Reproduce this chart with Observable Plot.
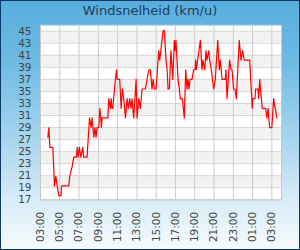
<!DOCTYPE html>
<html>
<head>
<meta charset="utf-8">
<script src="https://cdn.jsdelivr.net/npm/d3@7"></script>
<script src="https://cdn.jsdelivr.net/npm/@observablehq/plot@0.6"></script>
<style>
  html, body { margin: 0; padding: 0; }
  #wrap {
    position: relative; width: 300px; height: 250px; overflow: hidden;
    background: linear-gradient(to bottom, #56aedd 0%, #6fbbe4 25%, #a6d4ee 55%, #d8ecf7 80%, #f7fbfd 100%);
    box-shadow: inset 0 0 0 1px #0e3a66;
    font-family: "DejaVu Sans", sans-serif;
  }
  #title {
    position: absolute; left: 0; top: 3px; width: 300px; text-align: center;
    font-size: 13px; color: #1b3d5e; line-height: 16px;
  }
  #chart { position: absolute; left: 0; top: 22px; }
</style>
</head>
<body>
<div id="wrap">
  <div id="title">Windsnelheid (km/u)</div>
  <div id="chart"></div>
</div>
<script>
const times = ["03:46","03:52","03:58","04:17","04:27","04:35","04:44","04:54","05:08","05:11",
  "05:56","06:02","06:17","06:27","06:44","06:48","06:54","07:02","07:11","07:23",
  "07:29","07:50","08:05","08:15","08:21","08:32","08:38","08:46","08:52","09:03",
  "09:09","09:15","09:19","09:23","09:59","10:05","10:15","10:20","10:24","10:30",
  "10:46","10:53","10:57","11:13","11:22","11:30","11:38","11:49","11:59","12:07",
  "12:15","12:24","12:30","12:40","12:55","13:01","13:12","13:22","13:32","13:53",
  "14:14","14:24","14:34","14:41","14:49","14:59","15:16","15:22","15:43","15:51",
  "16:01","16:08","16:14","16:22","16:32","16:43","16:53","16:57","17:03","17:16",
  "17:24","17:30","17:43","17:55","18:04","18:12","18:18","18:24","18:31","18:43",
  "18:53","19:02","19:06","19:10","19:18","19:35","19:45","19:51","20:02","20:10",
  "20:16","20:27","20:33","20:43","20:58","21:08","21:23","21:33","21:39","21:50",
  "22:10","22:14","22:21","22:37","22:46","22:52","23:02","23:10","23:19","23:37",
  "23:48","23:58","00:08","00:42","00:58","01:02","01:15","01:19","01:33","01:38",
  "01:44","02:00","02:21","02:29","02:36","02:46","03:00","03:11","03:21","03:31"];
const values = [27.4,29.0,25.7,25.7,19.3,20.9,19.3,17.7,17.7,19.3,
  19.3,20.9,22.5,24.1,24.1,25.7,24.1,25.7,24.1,25.7,
  24.1,24.1,30.6,29.0,30.6,27.4,29.0,27.4,29.0,29.0,
  32.2,30.6,29.0,30.6,30.6,33.8,32.2,33.8,32.2,32.2,
  37.0,38.6,37.0,37.0,32.2,35.4,33.8,30.6,33.8,32.2,
  33.8,32.2,33.8,30.6,37.0,30.6,33.8,32.2,35.4,35.4,
  38.6,38.6,35.4,37.0,35.4,35.4,41.8,40.2,45.1,45.1,
  40.2,38.6,35.4,35.4,41.8,37.0,43.5,41.8,43.5,37.0,
  35.4,33.8,33.8,30.6,38.6,35.4,37.0,35.4,37.0,37.0,
  38.6,38.6,40.2,38.6,40.2,43.5,38.6,40.2,38.6,41.8,
  40.2,41.8,40.2,38.6,35.4,37.0,43.5,38.6,40.2,37.0,
  37.0,38.6,33.8,40.2,38.6,38.6,35.4,35.4,33.8,43.5,
  40.2,41.8,40.2,40.2,32.2,33.8,33.8,35.4,35.4,33.8,
  37.0,32.2,32.2,30.6,32.2,29.0,29.0,33.8,32.2,30.6];
const yTicks = [17,19,21,23,25,27,29,31,33,35,37,39,41,43,45];
const xTickLabels = ["03:00","05:00","07:00","09:00","11:00","13:00","15:00","17:00","19:00","21:00","23:00","01:00","03:00"];
const xStart = "03:00", xEnd = "04:00";

// parse clock strings into dates, rolling over midnight
function toDates(list) {
  let day = 0, prev = -1;
  return list.map(s => {
    const [h, m] = s.split(":").map(Number);
    const mins = h * 60 + m;
    if (mins < prev) day++;
    prev = mins;
    return new Date(2024, 0, 1 + day, h, m);
  });
}
const dates = toDates(times);
const data = dates.map((d, i) => ({t: d, v: values[i]}));
const xTicks = toDates(xTickLabels);
const domainX = toDates([xStart, "12:00", "23:00", xEnd]);
const bands = [];
for (let i = 1; i + 1 < yTicks.length; i += 2) bands.push({y1: yTicks[i], y2: yTicks[i + 1]});

const chart = Plot.plot({
  width: 300, height: 228,
  marginLeft: 40, marginRight: 19, marginTop: 2.7, marginBottom: 50.7,
  style: {fontFamily: "DejaVu Sans, sans-serif", fontSize: "10.5px", color: "#444", background: "transparent", overflow: "visible"},
  x: {type: "time", domain: [domainX[0], domainX[3]], label: null},
  y: {domain: [17, 46], label: null},
  marks: [
    Plot.frame({fill: "#ffffff"}),
    Plot.rect(bands, {y1: "y1", y2: "y2", fill: "#f2f2f2"}),
    Plot.gridY(yTicks, {stroke: "#d6d6d6", strokeOpacity: 1}),
    Plot.gridX(xTicks, {stroke: "#cccccc", strokeOpacity: 1}),
    Plot.frame({stroke: "#c8c8c8"}),
    Plot.axisY(yTicks, {tickSize: 0, tickPadding: 9, fill: "#444", label: null}),
    Plot.axisX(xTicks, {tickSize: 0, tickPadding: 12, tickRotate: -90, tickFormat: d3.timeFormat("%H:%M"), fill: "#444", label: null}),
    Plot.line(data, {x: "t", y: "v", stroke: "#ff0000", strokeWidth: 1.2})
  ]
});
document.getElementById("chart").appendChild(chart);
</script>
</body>
</html>
